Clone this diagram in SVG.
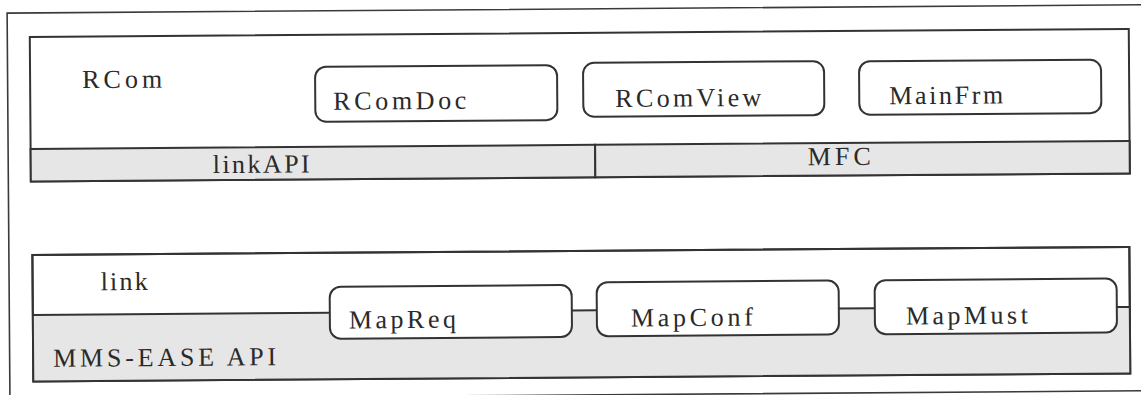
<svg xmlns="http://www.w3.org/2000/svg" width="1141" height="395" viewBox="0 0 1141 395">
  <style>
    .frame { fill: none; stroke: #3a3a3a; stroke-width: 1.6; }
    .layer { fill: #ffffff; stroke: #333333; stroke-width: 2; }
    .band { fill: #e6e6e6; stroke: #333333; stroke-width: 2; }
    .line { fill: none; stroke: #333333; stroke-width: 2; }
    .node { fill: #ffffff; stroke: #333333; stroke-width: 2; }
    .label { font-family: "Liberation Serif", "Times New Roman", serif; font-size: 26px; fill: #2a2a2a; }
  </style>
  <rect width="1141" height="395" fill="#ffffff"/>
  <g transform="rotate(-0.42 570 200)">
    <!-- outer frame -->
    <rect class="frame" x="8.5" y="9" width="1170" height="386"/>

    <!-- upper layer: RCom over linkAPI / MFC -->
    <g id="layer-rcom">
      <rect class="layer" x="31" y="33" width="1099" height="144.5"/>
      <rect class="band" x="31" y="145" width="564.5" height="32.5"/>
      <rect class="band" x="595.5" y="145" width="534.5" height="32.5"/>
      <text class="label" x="83" y="84.5" textLength="80" lengthAdjust="spacing">RCom</text>
      <text class="label" x="213" y="170.5" textLength="97" lengthAdjust="spacing">linkAPI</text>
      <text class="label" x="808" y="167" textLength="63" lengthAdjust="spacing">MFC</text>
    </g>

    <g id="node-rcomdoc">
      <rect class="node" x="316" y="65" width="242" height="55" rx="11"/>
      <text class="label" x="334" y="108" textLength="133" lengthAdjust="spacing">RComDoc</text>
    </g>
    <g id="node-rcomview">
      <rect class="node" x="584" y="63" width="241" height="54" rx="11"/>
      <text class="label" x="616" y="107.3" textLength="146" lengthAdjust="spacing">RComView</text>
    </g>
    <g id="node-mainfrm">
      <rect class="node" x="860" y="63.5" width="242" height="53.5" rx="11"/>
      <text class="label" x="890" y="106.6" textLength="114" lengthAdjust="spacing">MainFrm</text>
    </g>

    <!-- lower layer: link over MMS-EASE API -->
    <g id="layer-link">
      <rect class="layer" x="32" y="251" width="1097" height="126.5"/>
      <rect x="32" y="311" width="1097" height="66.5" fill="#e6e6e6"/>
      <line class="line" x1="32" y1="311" x2="330" y2="311"/>
      <line class="line" x1="1116" y1="311" x2="1129" y2="311"/>
      <rect class="frame" x="32" y="251" width="1097" height="126.5" style="stroke:#333333;stroke-width:2"/>
      <text class="label" x="100" y="286.8" textLength="47" lengthAdjust="spacing">link</text>
      <text class="label" x="52" y="363" textLength="223" lengthAdjust="spacing">MMS-EASE API</text>
    </g>

    <g id="connectors">
      <line class="line" x1="571" y1="310.5" x2="596" y2="310.5"/>
      <line class="line" x1="838" y1="310.5" x2="874" y2="310.5"/>
    </g>

    <g id="node-mapreq">
      <rect class="node" x="329" y="285" width="242" height="52" rx="11"/>
      <text class="label" x="348" y="326.8" textLength="107" lengthAdjust="spacing">MapReq</text>
    </g>
    <g id="node-mapconf">
      <rect class="node" x="596" y="282.5" width="242" height="54" rx="11"/>
      <text class="label" x="630" y="326.9" textLength="122" lengthAdjust="spacing">MapConf</text>
    </g>
    <g id="node-mapmust">
      <rect class="node" x="874" y="282.5" width="242" height="54" rx="11"/>
      <text class="label" x="905" y="326.9" textLength="122" lengthAdjust="spacing">MapMust</text>
    </g>
  </g>
</svg>
